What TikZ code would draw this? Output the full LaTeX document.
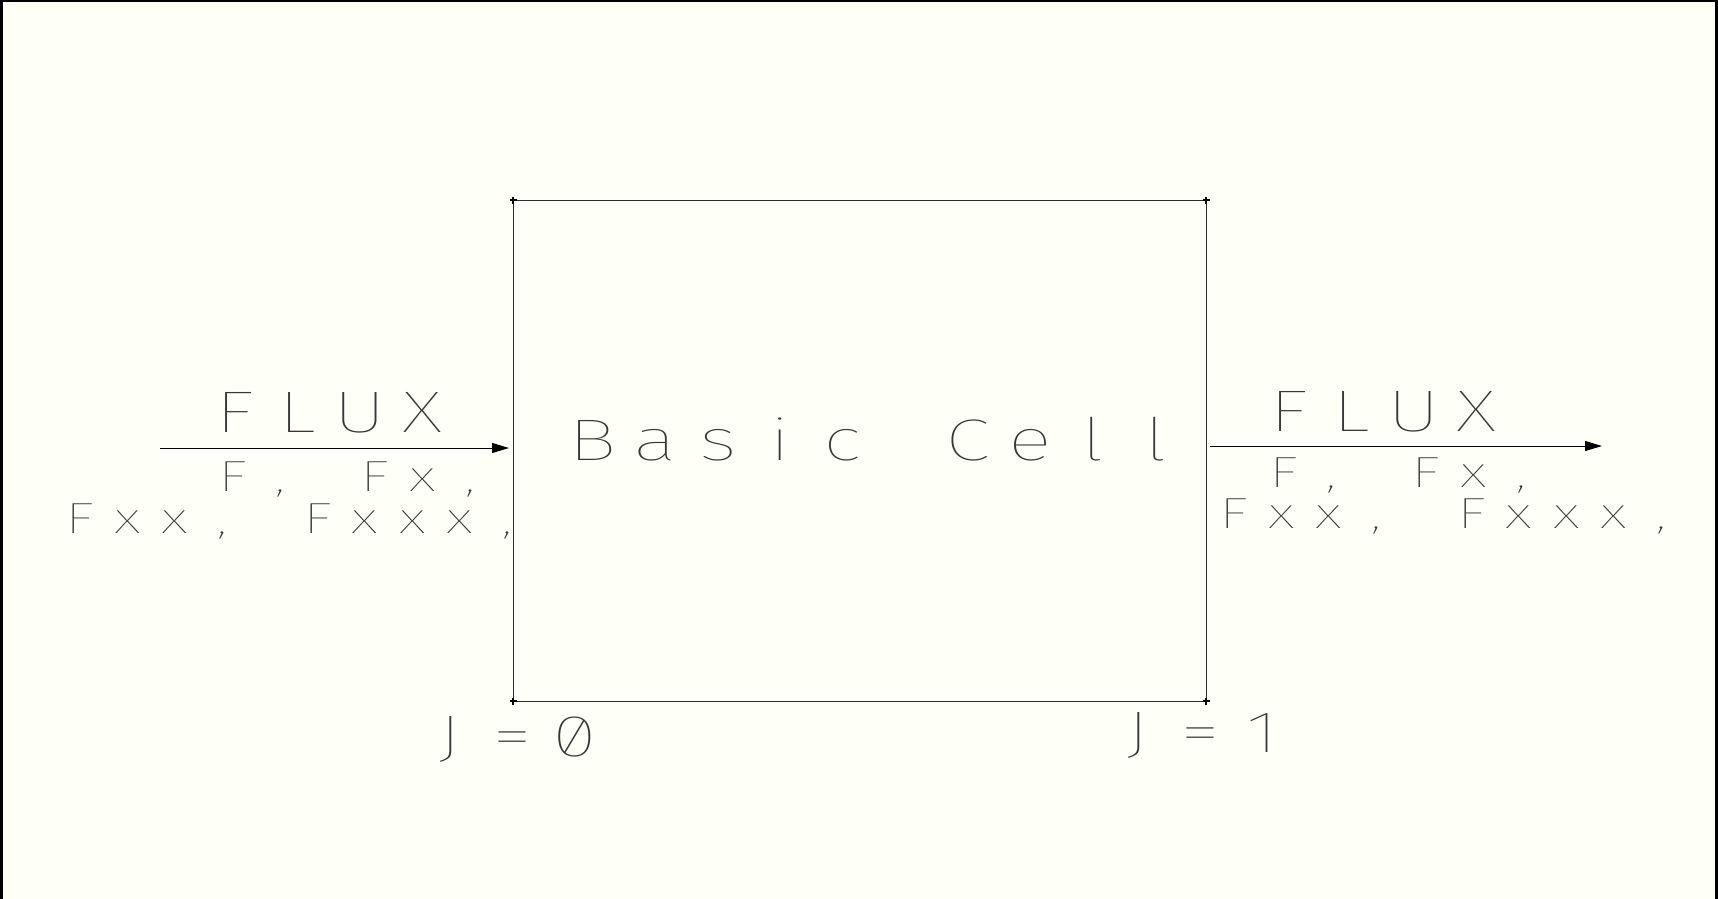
\documentclass[tikz,border=0pt]{standalone}
\usepackage{fontspec}
\usetikzlibrary{arrows.meta}
\IfFontExistsTF{Fira Sans Thin}{\newfontfamily\hfont{Fira Sans Thin}[RawFeature=+zero]}{%
 \IfFontExistsTF{Fira Sans ExtraLight}{\newfontfamily\hfont{Fira Sans ExtraLight}[RawFeature=+zero]}{%
  \IfFontExistsTF{Fira Sans Light}{\newfontfamily\hfont{Fira Sans Light}[RawFeature=+zero]}{%
   \IfFontExistsTF{lmmonolt10-regular.otf}{\newfontfamily\hfont{lmmonolt10-regular.otf}}{%
    \newfontfamily\hfont{Fira Sans}[RawFeature=+zero]}}}}
\definecolor{bgcol}{RGB}{254,255,247}
\definecolor{txtgray}{RGB}{55,55,55}
\definecolor{boxgray}{RGB}{45,45,45}
\newlength\monocw
\newcommand\mono[2]{\setlength\monocw{#1}\monoloop#2\relax}
\def\monoloop#1{\ifx\relax#1\else\makebox[\monocw][c]{\scalebox{1.4}[1]{#1}}\expandafter\monoloop\fi}
\begin{document}
\begin{tikzpicture}[x=0.5pt,y=-0.5pt,
  lbl/.style={anchor=base west,inner sep=0pt,outer sep=0pt,text=txtgray},
  big/.style={lbl,font=\hfont\fontsize{29.4}{30}\selectfont},
  small/.style={lbl,font=\hfont\fontsize{21.8}{22}\selectfont},
  flow/.style={draw=black,line width=0.5pt,-{Triangle[length=8.5pt,width=5pt]}},
  corner/.style={line width=1pt,draw=black}]
\fill[bgcol] (0,0) rectangle (1718,899);
\useasboundingbox (0,0) rectangle (1718,899);
\fill[black] (0,0) rectangle (1718,2);
\fill[black] (0,0) rectangle (3,899);
\fill[black] (1715,0) rectangle (1718,899);
% cell
\node[draw=boxgray,line width=0.5pt,minimum width=346.5pt,minimum height=250.5pt,
      inner sep=0pt,outer sep=0pt,anchor=north west] (cell) at (513,200) {};
\foreach \a in {north west,north east,south west,south east}
  \draw[corner] ([xshift=-1.75pt]cell.\a) -- ([xshift=1.75pt]cell.\a)
                ([yshift=-1.75pt]cell.\a) -- ([yshift=1.75pt]cell.\a);
\node[big] (title) at (561.75,460) {\mono{31.25pt}{Basic~Cell}};
% arrows
\coordinate (inL) at (160,448);
\coordinate (outE) at (1602,446);
\draw[flow] (inL) -- ([xshift=-2pt]cell.west |- inL);
\draw[flow] ([xshift=2pt]cell.east |- outE) -- (outE);
% left labels
\node[big] (fluxL) at (203.75,432) {\mono{31.25pt}{FLUX}};
\node[small] (fL1) at (208.75,491) {\mono{23.75pt}{F,~Fx,}};
\node[small] (fL2) at (56.25,533) {\mono{23.75pt}{Fxx,~Fxxx,}};
% right labels
\node[big] (fluxR) at (1257.25,431) {\mono{31.25pt}{FLUX}};
\node[small] (fR1) at (1259.75,487) {\mono{23.75pt}{F,~Fx,}};
\node[small] (fR2) at (1210.25,528) {\mono{23.75pt}{Fxx,~Fxxx,}};
% J labels
\node[big] (j0) at (418.75,756) {\mono{31.25pt}{J=0}};
\node[big] (j1) at (1106.75,752) {\mono{31.25pt}{J=1}};
\end{tikzpicture}
\end{document}
